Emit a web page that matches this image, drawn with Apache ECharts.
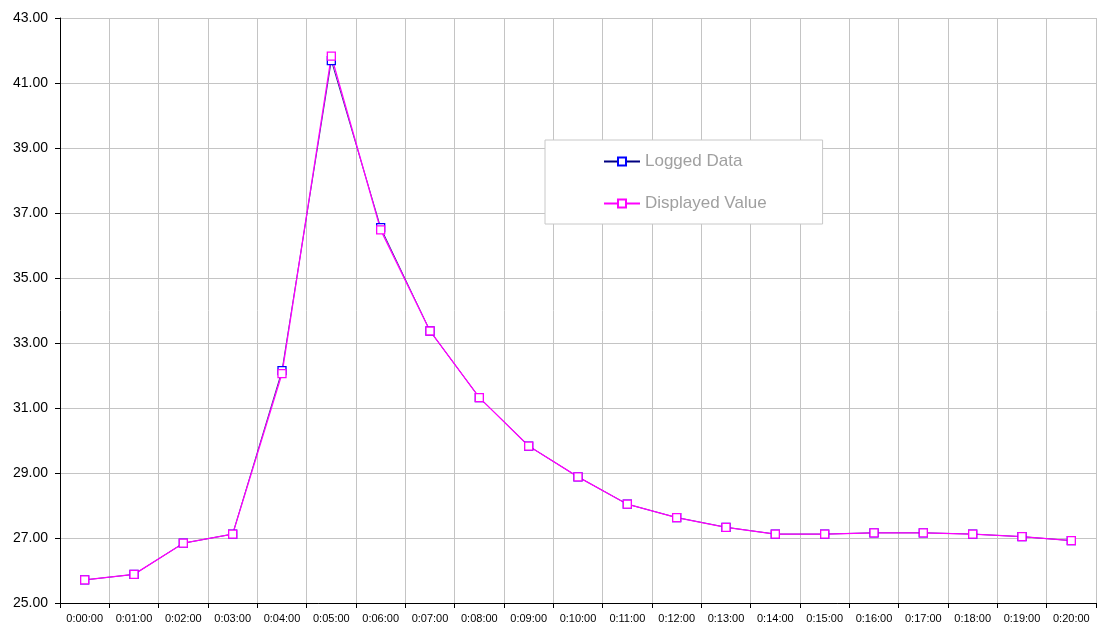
<!DOCTYPE html>
<html>
<head>
<meta charset="utf-8">
<title>Logged Data vs Displayed Value</title>
<script src="https://cdn.jsdelivr.net/npm/echarts@6/dist/echarts.min.js"></script>
<style>
  html, body { margin: 0; padding: 0; background: #ffffff; }
  #chart { width: 1101px; height: 626px; }
</style>
</head>
<body>
<div id="chart"></div>
<script>
// Elapsed time labels (one reading per minute)
const times = [
  '0:00:00', '0:01:00', '0:02:00', '0:03:00', '0:04:00', '0:05:00', '0:06:00',
  '0:07:00', '0:08:00', '0:09:00', '0:10:00', '0:11:00', '0:12:00', '0:13:00',
  '0:14:00', '0:15:00', '0:16:00', '0:17:00', '0:18:00', '0:19:00', '0:20:00'
];

// Raw values as written to the log
const loggedData = [
  25.71, 25.88, 26.84, 27.12, 32.15, 41.69, 36.55,
  33.37, 31.32, 29.83, 28.88, 28.04, 27.63, 27.33,
  27.12, 27.12, 27.16, 27.16, 27.12, 27.04, 26.92
];

// Values shown on the display
const displayedValue = [
  25.71, 25.88, 26.84, 27.12, 32.06, 41.83, 36.48,
  33.37, 31.32, 29.83, 28.88, 28.04, 27.63, 27.33,
  27.12, 27.12, 27.16, 27.16, 27.12, 27.04, 26.92
];

// Value axis range
const yMin = 25;
const yMax = 43;
const yStep = 2;

const FONT = '"Liberation Sans", Arial, sans-serif';

const chart = echarts.init(document.getElementById('chart'), null, { renderer: 'canvas' });

function lineSeries(name, values, lineColor, lineWidth, markColor) {
  return {
    name: name,
    type: 'line',
    data: values,
    symbol: 'rect',
    symbolSize: 8,
    showAllSymbol: true,
    lineStyle: { color: lineColor, width: lineWidth },
    itemStyle: { color: '#ffffff', borderColor: markColor, borderWidth: 1.3 },
    emphasis: { disabled: true }
  };
}

chart.setOption({
  animation: false,
  backgroundColor: '#ffffff',
  grid: { left: 60, right: 5, top: 18, bottom: 23, containLabel: false },
  legend: {
    orient: 'vertical',
    left: 545,
    top: 140,
    itemWidth: 36,
    itemHeight: 10,
    itemGap: 25,
    padding: [13, 56, 12, 58],
    backgroundColor: '#ffffff',
    borderColor: '#c8c8c8',
    borderWidth: 1,
    textStyle: { fontFamily: FONT, fontSize: 17, color: '#a0a0a0' },
    data: ['Logged Data', 'Displayed Value']
  },
  xAxis: {
    type: 'category',
    data: times,
    boundaryGap: true,
    axisLine: { lineStyle: { color: '#000000', width: 1 } },
    axisTick: { show: true, length: 5, lineStyle: { color: '#000000' } },
    axisLabel: { fontFamily: FONT, fontSize: 11, color: '#000000', margin: 10, interval: 0 },
    splitLine: { show: true, lineStyle: { color: '#c4c4c4', width: 1 } }
  },
  yAxis: {
    type: 'value',
    min: yMin,
    max: yMax,
    interval: yStep,
    axisLine: { show: true, lineStyle: { color: '#000000', width: 1 } },
    axisTick: { show: true, length: 5, lineStyle: { color: '#000000' } },
    axisLabel: {
      fontFamily: FONT, fontSize: 14, color: '#000000', margin: 12,
      formatter: v => v.toFixed(2)
    },
    splitLine: { show: true, lineStyle: { color: '#c4c4c4', width: 1 } }
  },
  series: [
    lineSeries('Logged Data', loggedData, '#000080', 0.8, '#0000ff'),
    lineSeries('Displayed Value', displayedValue, '#ff00ff', 1.3, '#ff00ff')
  ]
});
</script>
</body>
</html>
